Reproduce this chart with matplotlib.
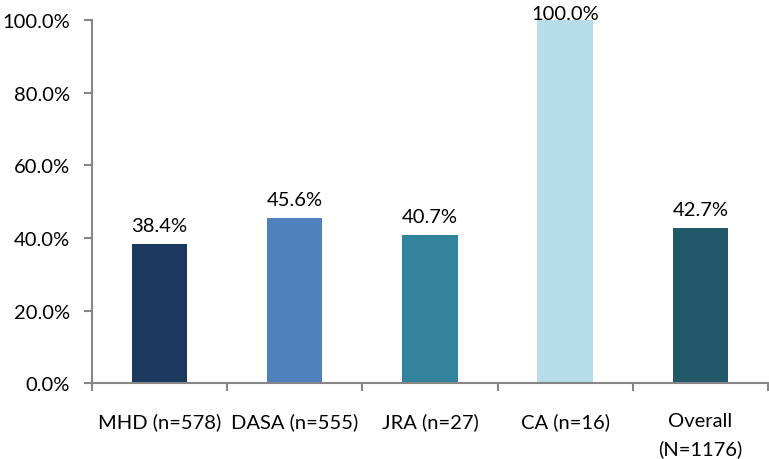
import matplotlib.pyplot as plt
import numpy as np
from matplotlib.ticker import FuncFormatter, FixedLocator

plt.rcParams['font.family'] = ['Lato', 'DejaVu Sans']

groups = ['MHD (n=578)', 'DASA (n=555)', 'JRA (n=27)', 'CA (n=16)', 'Overall\n(N=1176)']
values = [38.4, 45.6, 40.7, 100.0, 42.7]
colors = ['#1B385E', '#4F81BD', '#31849B', '#B7DEE8', '#215968']

fig = plt.figure(figsize=(7.69, 4.6), dpi=100)
ax = fig.add_axes([0.1196, 0.165, 0.879, 0.789])

x = np.arange(len(groups))
bars = ax.bar(x, values, width=0.41, color=colors)

# labels sit above the bars; the full bar gets its label squeezed onto the top
for xi, v in zip(x, values):
    ax.text(xi, min(v + 3.6, 100.3), f'{v:.1f}%', ha='center', va='baseline',
            fontsize=14.5, color='#000000', clip_on=False)

ax.set_xlim(-0.5, len(groups) - 0.5)
ax.set_ylim(0, 100)
ax.set_yticks(np.arange(0, 101, 20))
ax.yaxis.set_major_formatter(FuncFormatter(lambda v, p: f'{v:.1f}%'))

ax.set_xticks(x)
ax.set_xticklabels(groups, linespacing=1.65)
ax.xaxis.set_minor_locator(FixedLocator(np.arange(-0.5, len(groups), 1.0)))
ax.tick_params(axis='x', which='major', length=0, pad=21, labelsize=14.5)
ax.tick_params(axis='x', which='minor', length=6, color='#868686', width=1.5)
ax.tick_params(axis='y', length=6, color='#868686', width=1.5, labelsize=14.5, pad=10)

for s in ['top', 'right']:
    ax.spines[s].set_visible(False)
for s in ['left', 'bottom']:
    ax.spines[s].set_color('#868686')
    ax.spines[s].set_linewidth(1.5)

fig.savefig('out.png', dpi=100)
